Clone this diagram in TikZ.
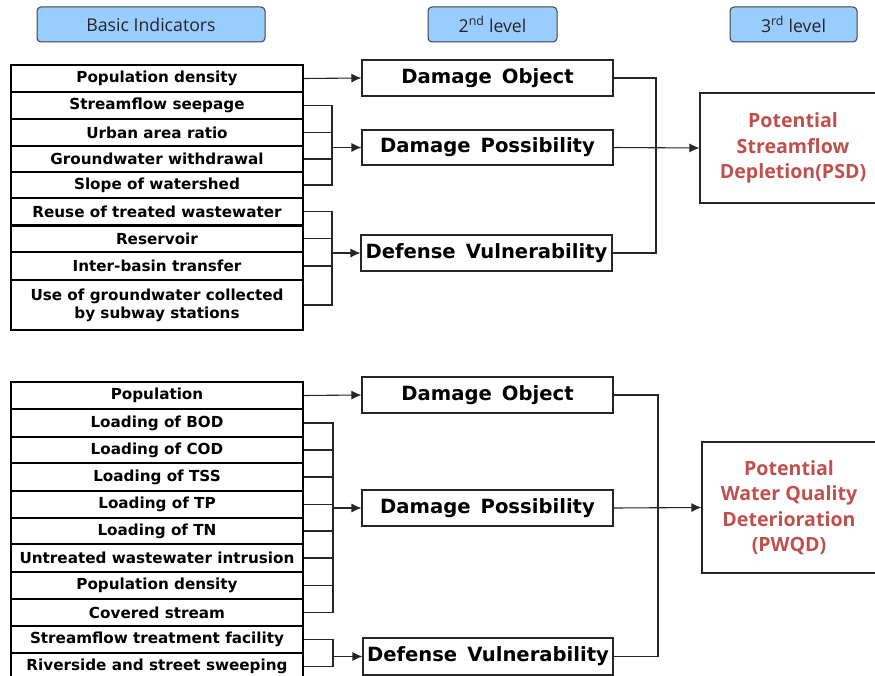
\documentclass[tikz,border=0pt]{standalone}
\usepackage{fontspec}
\usetikzlibrary{arrows.meta}
\newfontfamily\indfont{DejaVu Sans}
\newfontfamily\hdrfont{Open Sans}
\newfontfamily\redfont{Open Sans}
\definecolor{hdrfill}{HTML}{99CCFF}
\definecolor{psdred}{HTML}{C0504D}
\begin{document}
\begin{tikzpicture}[x=1pt,y=-1pt,
  hdr/.style={draw=black!75, fill=hdrfill, rounded corners=4pt, line width=1pt, minimum height=35pt, inner sep=0pt, font=\hdrfont\fontsize{17.7}{20}\selectfont, text=black!85},
  ind/.style={draw=black, line width=1.1pt, minimum width=292pt, inner sep=0pt, font=\indfont\bfseries\fontsize{15.2}{18}\selectfont, align=center},
  lvl/.style={draw=black!85, line width=1.1pt, minimum width=251pt, minimum height=36pt, inner sep=0pt, font=\indfont\bfseries\fontsize{19.6}{22}\selectfont},
  res/.style={draw=black!85, line width=1.1pt, inner sep=0pt, align=center, text=psdred, font=\redfont\bfseries\fontsize{19.6}{25.5}\selectfont},
  conn/.style={draw=black!85, line width=1.1pt},
  arr/.style={conn, -{Latex[length=10pt,width=9pt]}}]
\clip (0,0) rectangle (875,676);
\fill[white] (0,0) rectangle (875,676);

% headers
\node[hdr, minimum width=228pt] (h1) at (151,24.5) {Basic Indicators};
\node[hdr, minimum width=129pt] (h2) at (492.5,24.5) {2\textsuperscript{nd} level};
\node[hdr, minimum width=127pt] (h3) at (793.5,24.5) {3\textsuperscript{rd} level};

% ---------- top block ----------
\node[ind, minimum height=27pt] (t1) at (157,78.5) {Population density};
\node[ind, minimum height=27pt] (t2) at (157,105.5) {Streamflow seepage};
\node[ind, minimum height=27pt] (t3) at (157,132.5) {Urban area ratio};
\node[ind, minimum height=26pt] (t4) at (157,159) {Groundwater withdrawal};
\node[ind, minimum height=26pt] (t5) at (157,185) {Slope of watershed};
\node[ind, minimum height=27pt] (t6) at (157,211.5) {Reuse of treated wastewater};
\node[ind, minimum height=27pt] (t7) at (157,238.5) {Reservoir};
\node[ind, minimum height=28pt] (t8) at (157,266) {Inter-basin transfer};
\node[ind, minimum height=50pt] (t9) at (157,305) {Use of groundwater collected\\ by subway stations};
\draw[black, line width=2pt] (t6.south west) -- (t6.south east);

\node[lvl] (do1) at (487.5,78) {Damage\, Object};
\node[lvl, minimum height=35pt] (dp1) at (487.5,147.5) {Damage\, Possibility};
\node[lvl] (dv1) at (486.5,253) {Defense\, Vulnerability};
\node[res, minimum width=186pt, minimum height=110pt] (psd) at (793,148) {Potential\\Streamflow\\Depletion(PSD)};

\coordinate (bx1) at (332,0);
\coordinate (rx1) at (656,0);
\draw[arr] (t1.east) -- (do1.west);
\foreach \r in {t2,t3,t4,t5} \draw[conn] (\r.east) -| (bx1 |- dp1.west);
\draw[arr] (bx1 |- dp1.west) -- (dp1.west);
\foreach \r in {t6,t7,t8,t9} \draw[conn] (\r.east) -| (bx1 |- dv1.west);
\draw[arr] (bx1 |- dv1.west) -- (dv1.west);
\draw[conn] (do1.east) -| (rx1 |- psd.west);
\draw[conn] (dv1.east) -| (rx1 |- psd.west);
\draw[arr] (dp1.east) -- (psd.west);

% ---------- bottom block ----------
\node[ind, minimum height=27pt] (b1) at (157,395.5) {Population};
\node[ind, minimum height=28pt] (b2) at (157,423) {Loading of BOD};
\node[ind, minimum height=26pt] (b3) at (157,450) {Loading of COD};
\node[ind, minimum height=28pt] (b4) at (157,477) {Loading of TSS};
\node[ind, minimum height=27pt] (b5) at (157,504.5) {Loading of TP};
\node[ind, minimum height=26pt] (b6) at (157,531) {Loading of TN};
\node[ind, minimum height=28pt] (b7) at (157,558) {Untreated wastewater intrusion};
\node[ind, minimum height=27pt] (b8) at (157,585.5) {Population density};
\node[ind, minimum height=27pt] (b9) at (157,612.5) {Covered stream};
\node[ind, minimum height=27pt] (b10) at (157,639.5) {Streamflow treatment facility};
\node[ind, minimum height=27pt] (b11) at (157,666.5) {Riverside and street sweeping};

\node[lvl] (do2) at (487.5,395) {Damage\, Object};
\node[lvl] (dp2) at (487.5,508) {Damage\, Possibility};
\node[lvl, minimum width=250pt, minimum height=37pt] (dv2) at (488,656.5) {Defense\, Vulnerability};
\node[res, minimum width=174pt, minimum height=131pt] (pwqd) at (789,507.5) {Potential\\Water Quality\\Deterioration\\(PWQD)};

\coordinate (bx2) at (333,0);
\coordinate (rx2) at (658,0);
\draw[arr] (b1.east) -- (do2.west);
\foreach \r in {b2,b3,b4,b5,b6,b7,b8,b9} \draw[conn] (\r.east) -| (bx2 |- dp2.west);
\draw[arr] (bx2 |- dp2.west) -- (dp2.west);
\foreach \r in {b10,b11} \draw[conn] (\r.east) -| (bx2 |- dv2.west);
\draw[arr] (bx2 |- dv2.west) -- (dv2.west);
\draw[conn] (do2.east) -| (rx2 |- pwqd.west);
\draw[conn] (dv2.east) -| (rx2 |- pwqd.west);
\draw[arr] (dp2.east) -- (pwqd.west);
\end{tikzpicture}
\end{document}
